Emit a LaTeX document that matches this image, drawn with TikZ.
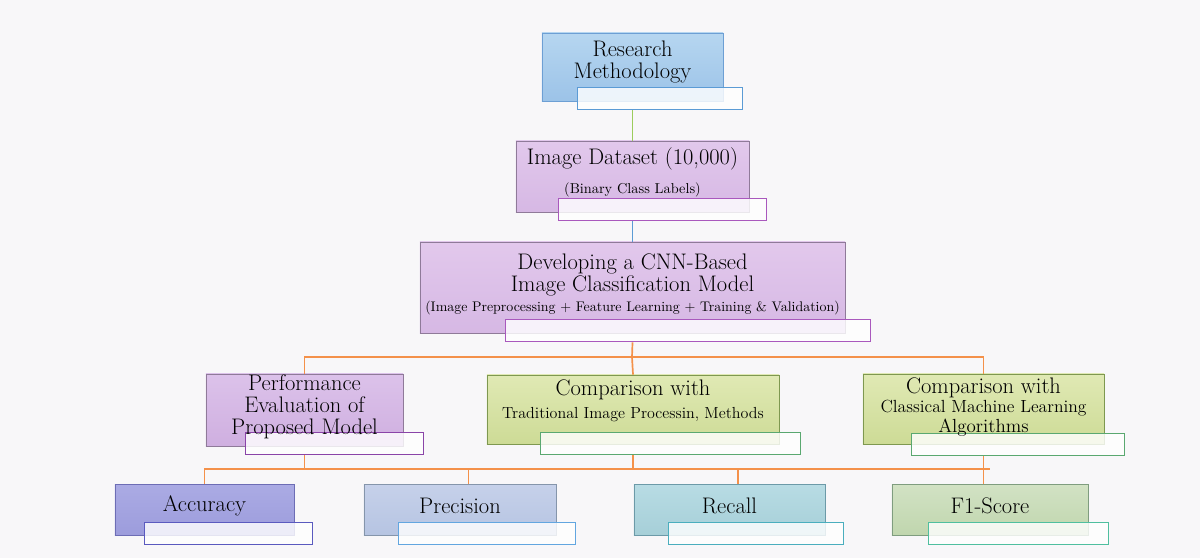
\documentclass[tikz,border=0pt]{standalone}
\usepackage{tikz}
\usetikzlibrary{positioning,calc}

\definecolor{bgc}{HTML}{F8F7F9}
\definecolor{rmtop}{HTML}{B6D6F0}\definecolor{rmbot}{HTML}{9CC3E8}\definecolor{rmline}{HTML}{6D9FD4}\definecolor{rmtab}{HTML}{5B9BD5}
\definecolor{dstop}{HTML}{E2C8EC}\definecolor{dsbot}{HTML}{D6B8E4}\definecolor{dsline}{HTML}{8F7A99}\definecolor{dstab}{HTML}{A958BD}
\definecolor{pftop}{HTML}{DCC2EA}\definecolor{pfbot}{HTML}{CFAFE0}\definecolor{pftab}{HTML}{8A44A8}
\definecolor{grtop}{HTML}{E0E9B4}\definecolor{grbot}{HTML}{CDDB96}\definecolor{grline}{HTML}{7E9850}\definecolor{grtab}{HTML}{5AA870}
\definecolor{actop}{HTML}{ABABE4}\definecolor{acbot}{HTML}{9C9CDC}\definecolor{acline}{HTML}{6D6DB5}\definecolor{actab}{HTML}{5A5ABF}
\definecolor{prtop}{HTML}{C6D1EA}\definecolor{prbot}{HTML}{B6C4E2}\definecolor{prline}{HTML}{8595AB}\definecolor{prtab}{HTML}{62A6E0}
\definecolor{retop}{HTML}{B8DCE4}\definecolor{rebot}{HTML}{A6CFD8}\definecolor{reline}{HTML}{6C9AA8}\definecolor{retab}{HTML}{4AAEBE}
\definecolor{f1top}{HTML}{D2E2C4}\definecolor{f1bot}{HTML}{C0D6AE}\definecolor{f1line}{HTML}{7F9D7F}\definecolor{f1tab}{HTML}{4FBF9F}
\definecolor{lgreen}{HTML}{9CCC5C}\definecolor{lblue}{HTML}{5B9BD5}\definecolor{lorange}{HTML}{F4914A}

\begin{document}
\begin{tikzpicture}[x=0.025cm, y=-0.025cm,
		box/.style={rectangle, draw=#1, line width=0.6pt, inner sep=0pt},
		tab/.style={rectangle, draw=#1, line width=0.9pt, fill=white, fill opacity=0.82,
			minimum height=0.55cm, anchor=south east, inner sep=0pt},
		txt/.style={align=center, inner sep=0pt, font=\fontsize{16}{15.5}\selectfont},
		link/.style={line width=1.2pt, draw=#1}
	]
	\fill[bgc] (0,0) rectangle (1200,558);
	\useasboundingbox (0,0) rectangle (1200,558);

	% top of the tree
	\node[box=rmline, top color=rmtop, bottom color=rmbot, minimum width=4.525cm, minimum height=1.7cm] (research) at (632.5,67) {};
	\node[tab=rmtab, minimum width=4.125cm] (researchtab) at ([shift={(20,9)}]research.south east) {};
	\node[txt] (researchtext) at ([shift={(0,-5)}]research.center) {Research\\Methodology};

	\node[box=dsline, top color=dstop, bottom color=dsbot, minimum width=5.825cm, minimum height=1.775cm] (dataset) at (632.5,176.5) {};
	\node[tab=dstab, minimum width=5.2cm] (datasettab) at ([shift={(18,9)}]dataset.south east) {};
	\node[txt] (datasettext) at ([shift={(0,-4)}]dataset.center) {Image Dataset (10,000)\\[5pt]{\fontsize{10.2}{12}\selectfont (Binary Class Labels)}};

	\node[box=dsline, top color=dstop, bottom color=dsbot, minimum width=10.625cm, minimum height=2.275cm] (cnn) at (632.5,287.5) {};
	\node[tab=dstab, minimum width=9.125cm] (cnntab) at ([shift={(26,9)}]cnn.south east) {};
	\node[txt] (cnntext) at ([shift={(0,-3)}]cnn.center) {Developing a CNN-Based\\Image Classification Model\\[-1pt]{\fontsize{9.9}{12}\selectfont (Image Preprocessing + Feature Learning + Training \& Validation)}};

	% second level
	\node[box=dsline, top color=pftop, bottom color=pfbot, minimum width=4.925cm, minimum height=1.8cm] (perf) at (304.5,410) {};
	\node[tab=pftab, minimum width=4.45cm] (perftab) at ([shift={(21,9)}]perf.south east) {};
	\node[txt] (perftext) at ([shift={(0,-3)}]perf.center) {Performance\\Evaluation of\\Proposed Model};

	\node[box=grline, top color=grtop, bottom color=grbot, minimum width=7.3cm, minimum height=1.725cm] (trad) at (633,409.5) {};
	\node[tab=grtab, minimum width=6.5cm] (tradtab) at ([shift={(22,11)}]trad.south east) {};
	\node[txt] (tradtext) at ([shift={(0,-9)}]trad.center) {Comparison with\\[1pt]{\fontsize{11.4}{13}\selectfont Traditional Image Processin, Methods}};

	\node[box=grline, top color=grtop, bottom color=grbot, minimum width=6.025cm, minimum height=1.75cm] (classic) at (983.5,409) {};
	\node[tab=grtab, minimum width=5.325cm] (classictab) at ([shift={(21,12)}]classic.south east) {};
	\node[txt, font=\fontsize{16}{14}\selectfont] (classictext) at ([shift={(0,-2)}]classic.center) {Comparison with\\{\fontsize{12.5}{14}\selectfont Classical Machine Learning}\\{\fontsize{13.5}{14}\selectfont Algorithms}};

	% metrics
	\node[box=acline, top color=actop, bottom color=acbot, minimum width=4.475cm, minimum height=1.275cm] (acc) at (204.5,509.5) {};
	\node[tab=actab, minimum width=4.2cm] (acctab) at ([shift={(19,10)}]acc.south east) {};
	\node[txt] (acctext) at ([shift={(0,-3.5)}]acc.center) {Accuracy};

	\node[box=prline, top color=prtop, bottom color=prbot, minimum width=4.8cm, minimum height=1.275cm] (prec) at (460,509.5) {};
	\node[tab=prtab, minimum width=4.425cm] (prectab) at ([shift={(20,10)}]prec.south east) {};
	\node[txt] (prectext) at ([shift={(0,-3.5)}]prec.center) {Precision};

	\node[box=reline, top color=retop, bottom color=rebot, minimum width=4.775cm, minimum height=1.275cm] (recall) at (729.5,509.5) {};
	\node[tab=retab, minimum width=4.375cm] (recalltab) at ([shift={(19,10)}]recall.south east) {};
	\node[txt] (recalltext) at ([shift={(0,-3.5)}]recall.center) {Recall};

	\node[box=f1line, top color=f1top, bottom color=f1bot, minimum width=4.9cm, minimum height=1.275cm] (fone) at (990,509.5) {};
	\node[tab=f1tab, minimum width=4.5cm] (fonetab) at ([shift={(21,10)}]fone.south east) {};
	\node[txt] (fonetext) at ([shift={(0,-3.5)}]fone.center) {F1-Score};

	% connectors
	\coordinate (busa) at (632,357);
	\coordinate (busb) at (630,469);
	\draw[link=lgreen] (research |- researchtab.south) -- (dataset.north);
	\draw[link=lblue] (dataset |- datasettab.south) -- (cnn.north);
	\draw[link=lorange] (cnn |- cnntab.south) -- (busa);
	\draw[link=lorange] (perf.north) |- (busa) -| (classic.north);
	\draw[link=lorange] (busa) -- (trad.north);
	\draw[link=lorange] (perf |- perftab.south) -- (perf |- busb);
	\draw[link=lorange] (trad |- tradtab.south) -- (trad |- busb);
	\draw[link=lorange] (classic |- classictab.south) -- (fone.north -| classic);
	\draw[link=lorange] (acc.north) |- (busb) -- (fone |- busb);
	\draw[link=lorange] ([xshift=6]prec.north) -- ([xshift=6]prec.north |- busb);
	\draw[link=lorange] ([xshift=6]recall.north) -- ([xshift=6]recall.north |- busb);
\end{tikzpicture}
\end{document}
